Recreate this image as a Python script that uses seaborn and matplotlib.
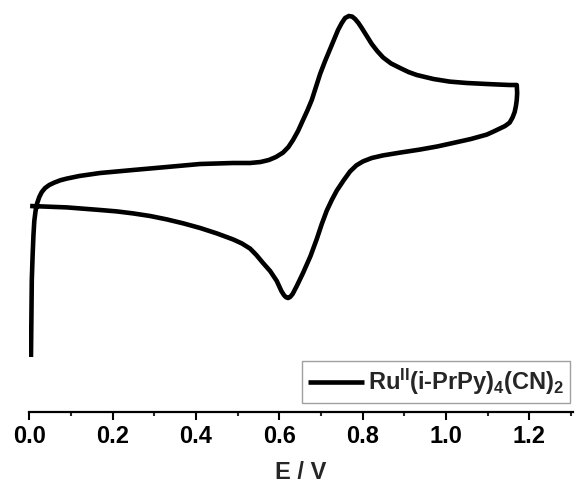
import numpy as np
import pandas as pd
import matplotlib
matplotlib.use("Agg")
import matplotlib.pyplot as plt
from matplotlib.ticker import MultipleLocator
import seaborn as sns

# Cyclic voltammogram: forward (anodic) sweep then reverse (cathodic) sweep
e_forward = [0.004, 0.005, 0.006, 0.008, 0.010, 0.012, 0.015, 0.019, 0.024, 0.030,
             0.038, 0.048, 0.060, 0.075, 0.090, 0.120, 0.170, 0.249, 0.330, 0.410,
             0.489, 0.530, 0.555, 0.575, 0.592, 0.609, 0.622, 0.633, 0.645, 0.657,
             0.668, 0.678, 0.688, 0.698, 0.710, 0.722, 0.732, 0.741, 0.750, 0.758,
             0.767, 0.775, 0.782, 0.790, 0.798, 0.810, 0.822, 0.835, 0.849, 0.868,
             0.890, 0.910, 0.930, 0.970, 1.009, 1.050, 1.098, 1.130, 1.153, 1.170]
i_forward = [-7.60, -5.75, -3.75, -2.50, -1.50, -0.80, -0.30, 0.10, 0.40, 0.65,
             0.85, 1.00, 1.12, 1.24, 1.32, 1.45, 1.60, 1.75, 1.90, 2.05,
             2.10, 2.10, 2.15, 2.25, 2.40, 2.62, 2.90, 3.25, 3.70, 4.25,
             4.75, 5.25, 5.90, 6.55, 7.20, 7.80, 8.30, 8.75, 9.10, 9.35,
             9.45, 9.42, 9.30, 9.10, 8.85, 8.45, 8.05, 7.70, 7.38, 7.08,
             6.85, 6.65, 6.50, 6.30, 6.17, 6.10, 6.05, 6.02, 6.00, 6.00]

e_reverse = [1.171, 1.170, 1.168, 1.165, 1.160, 1.153, 1.142, 1.129, 1.115, 1.098,
             1.060, 1.017, 0.980, 0.937, 0.890, 0.849, 0.822, 0.801, 0.785, 0.770,
             0.755, 0.738, 0.726, 0.714, 0.702, 0.690, 0.675, 0.657, 0.642, 0.632,
             0.626, 0.621, 0.616, 0.611, 0.605, 0.594, 0.578, 0.561, 0.545, 0.530,
             0.510, 0.489, 0.450, 0.410, 0.370, 0.330, 0.290, 0.249, 0.210, 0.170,
             0.090, 0.002]
i_reverse = [5.60, 5.25, 4.95, 4.65, 4.38, 4.12, 3.95, 3.82, 3.68, 3.52,
             3.30, 3.10, 2.93, 2.77, 2.62, 2.48, 2.35, 2.18, 1.98, 1.68,
             1.25, 0.72, 0.25, -0.28, -0.95, -1.70, -2.55, -3.40, -4.05, -4.45,
             -4.60, -4.65, -4.61, -4.50, -4.30, -3.80, -3.30, -2.90, -2.50, -2.18,
             -1.92, -1.72, -1.42, -1.15, -0.92, -0.72, -0.55, -0.42, -0.32, -0.25,
             -0.12, -0.05]

label = r"Ru$^{\rm II}$(i-PrPy)$_{\rm 4}$(CN)$_{\rm 2}$"

cv = pd.DataFrame({
    "E": e_forward + e_reverse,
    "I": i_forward + i_reverse,
    "sample": [label] * (len(e_forward) + len(e_reverse)),
})

sns.set_style("ticks")
plt.rcParams["font.family"] = ["Liberation Sans", "DejaVu Sans"]
plt.rcParams["font.weight"] = "bold"
plt.rcParams["mathtext.fontset"] = "custom"
plt.rcParams["mathtext.rm"] = "Liberation Sans:bold"
plt.rcParams["mathtext.it"] = "Liberation Sans:bold"
plt.rcParams["mathtext.bf"] = "Liberation Sans:bold"

fig = plt.figure(figsize=(5.75, 4.83), dpi=100)
ax = fig.add_axes([29.3 / 575, 71 / 483, 543.7 / 575, 412 / 483])

sns.lineplot(data=cv, x="E", y="I", hue="sample", palette=["black"],
             sort=False, estimator=None, linewidth=3.3, ax=ax)
for ln in ax.get_lines():
    ln.set_solid_joinstyle("round")
    ln.set_solid_capstyle("butt")

ax.set_xlim(0, 1.305)
ax.set_ylim(-10.35, 10.25)

for side in ("left", "top", "right"):
    ax.spines[side].set_visible(False)
ax.spines["bottom"].set_linewidth(1.6)
ax.spines["bottom"].set_color("black")

ax.set_yticks([])
ax.set_ylabel("")
ax.xaxis.set_major_locator(MultipleLocator(0.2))
ax.xaxis.set_minor_locator(MultipleLocator(0.1))
ax.tick_params(axis="x", which="major", direction="out", length=5.5, width=1.5,
               labelsize=17, pad=4, colors="black")
ax.tick_params(axis="x", which="minor", direction="out", length=2.8, width=1.5)
ax.set_xticklabels([f"{t:.1f}" for t in ax.get_xticks()], fontweight="bold")
ax.set_xlabel("E / V", fontsize=17, fontweight="bold", labelpad=9)

leg = ax.legend(loc="lower right", bbox_to_anchor=(570 / 575, 80 / 483),
                bbox_transform=fig.transFigure, frameon=True, fancybox=False,
                framealpha=1, edgecolor="#a0a0a0", borderaxespad=0,
                borderpad=0.25, handlelength=2.4, handletextpad=0.15,
                prop={"size": 17, "weight": "bold"})
leg.get_frame().set_linewidth(1.0)
for h in leg.get_lines():
    h.set_linewidth(3.3)

fig.savefig("out.png", dpi=100)
